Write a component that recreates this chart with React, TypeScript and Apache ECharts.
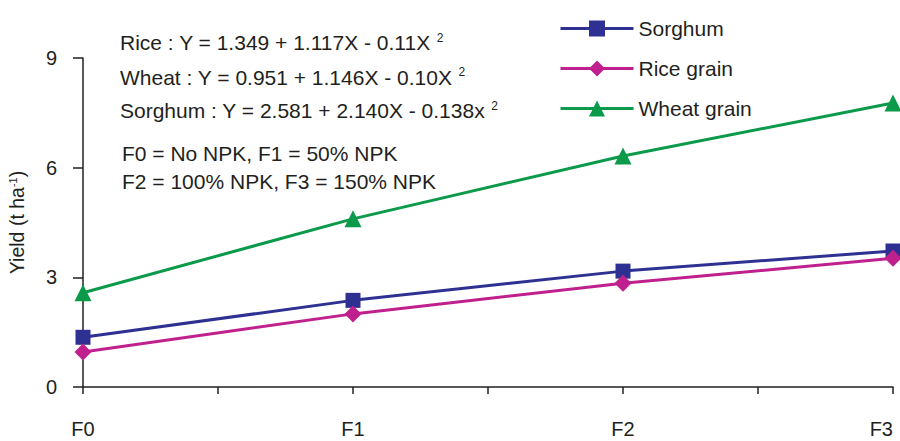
import React, { useEffect, useRef } from "react";
import * as echarts from "echarts";

const categories = ["F0", "F1", "F2", "F3"];
const sorghum = [1.36, 2.37, 3.17, 3.72];
const riceGrain = [0.96, 2.0, 2.84, 3.52];
const wheatGrain = [2.58, 4.6, 6.32, 7.77];
const yTicks = [0, 3, 6, 9];
const equations = [
  "Rice : Y = 1.349 + 1.117X - 0.11X ",
  "Wheat : Y = 0.951 + 1.146X - 0.10X ",
  "Sorghum : Y = 2.581 + 2.140X - 0.138x ",
];
const notes = ["F0 = No NPK, F1 = 50% NPK", "F2 = 100% NPK, F3 = 150% NPK"];

const TXT = "#231f20";
const FONT = "Liberation Sans, Arial, sans-serif";

export default function App() {
  const ref = useRef<HTMLDivElement>(null);
  useEffect(() => {
    const chart = echarts.init(ref.current!, null, { renderer: "svg" });
    const toPts = (arr: number[]) => arr.map((v, i) => [i, v]);
    const eqY = [42.5, 77, 110.5];
    const noteY = [153, 181.5];
    const graphics: any[] = [];
    equations.forEach((t, i) => {
      graphics.push({
        type: "text",
        x: 120,
        y: eqY[i],
        style: {
          text: t + "{s|2}",
          rich: { s: { fontSize: 12, verticalAlign: "top", padding: [0, 0, 10, 0], fill: TXT, fontFamily: FONT } },
          fontSize: 21,
          fontFamily: FONT,
          fill: TXT,
          verticalAlign: "middle",
        },
      });
    });
    notes.forEach((t, i) => {
      graphics.push({
        type: "text",
        x: 122,
        y: noteY[i],
        style: { text: t, fontSize: 21, fontFamily: FONT, fill: TXT, verticalAlign: "middle" },
      });
    });
    const mk = (name: string, data: number[], color: string, symbol: string, size: number) => ({
      name,
      type: "line",
      data: toPts(data),
      symbol,
      symbolSize: size,
      lineStyle: { color, width: 3 },
      itemStyle: { color },
      clip: false,
    });
    chart.setOption({
      animation: false,
      textStyle: { fontFamily: FONT },
      grid: { left: 83, right: 7, top: 58, bottom: 54, outerBoundsMode: "none", containLabel: false },
      legend: {
        orient: "vertical",
        left: 554,
        top: 13,
        itemWidth: 73,
        itemHeight: 20,
        itemGap: 19,
        lineStyle: { width: 3 },
        textStyle: { fontSize: 21, color: TXT, fontFamily: FONT, padding: [0, 0, 0, 0] },
        data: ["Sorghum", "Rice grain", "Wheat grain"],
      },
      xAxis: {
        type: "value",
        min: 0,
        max: categories.length - 1,
        interval: 0.5,
        splitLine: { show: false },
        axisLine: { lineStyle: { color: TXT, width: 1.5 } },
        axisTick: { show: true, length: 7, lineStyle: { color: TXT, width: 1.5 } },
        axisLabel: {
          margin: 32,
          fontSize: 20,
          color: TXT,
          showMaxLabel: true,
          alignMaxLabel: "right",
          formatter: (v: number) => (Number.isInteger(v) ? categories[v] ?? "" : ""),
        },
      },
      yAxis: {
        type: "value",
        min: yTicks[0],
        max: yTicks[yTicks.length - 1],
        interval: 3,
        splitLine: { show: false },
        axisLine: { show: true, lineStyle: { color: TXT, width: 1.5 } },
        axisTick: { show: true, length: 10, lineStyle: { color: TXT, width: 1.5 } },
        axisLabel: { margin: 26, fontSize: 20, color: TXT },
        name: "Yield (t ha{s|-1})",
        nameLocation: "middle",
        nameGap: 56,
        nameRotate: 90,
        nameTextStyle: {
          fontSize: 19.5,
          color: TXT,
          fontFamily: FONT,
          rich: { s: { fontSize: 11, verticalAlign: "top", padding: [0, 0, 8, 0], color: TXT } },
        },
      },
      graphic: graphics,
      series: [
        mk("Sorghum", sorghum, "#2e3192", "rect", 15),
        mk("Rice grain", riceGrain, "#c0208e", "diamond", 17),
        mk("Wheat grain", wheatGrain, "#0a9a4a", "triangle", 17),
      ],
    });
    return () => chart.dispose();
  }, []);
  return <div ref={ref} style={{ position: "absolute", left: 0, top: 0, width: 900, height: 441 }} />;
}
